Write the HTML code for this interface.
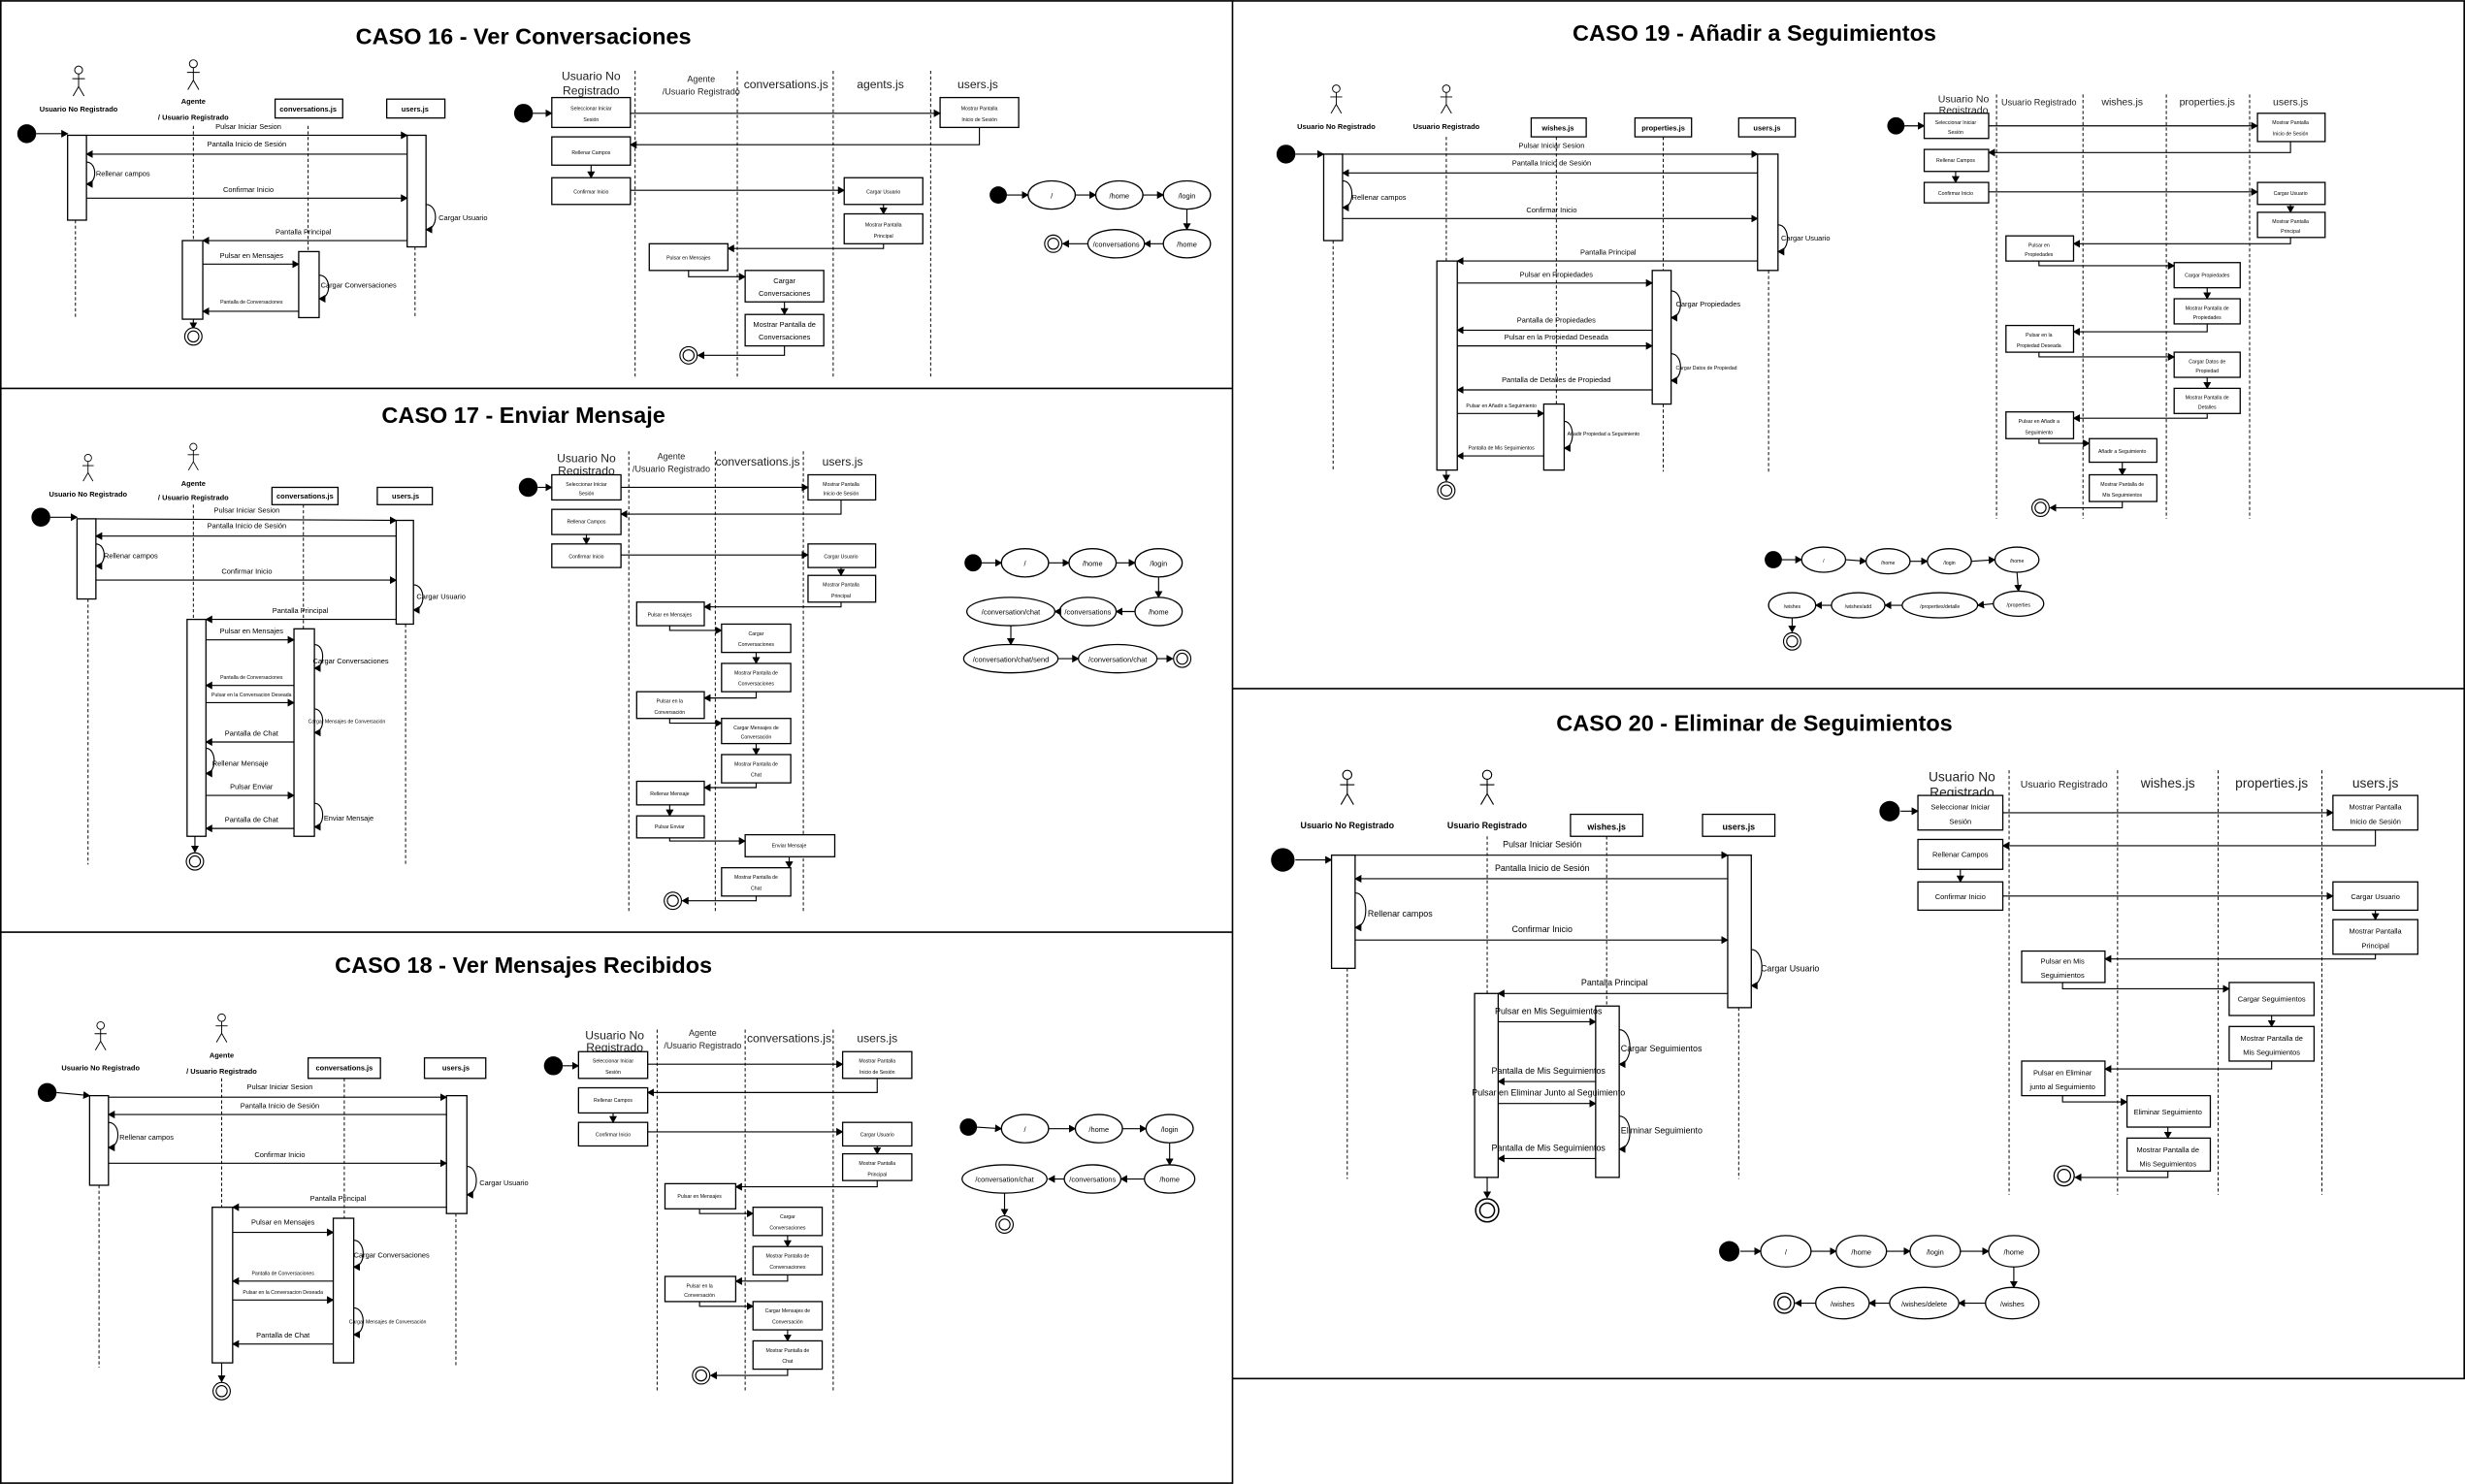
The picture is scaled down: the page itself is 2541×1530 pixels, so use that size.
<!DOCTYPE html>
<html><head><meta charset="utf-8"><style>
html,body{margin:0;padding:0;background:#fff}
svg{display:block}
text{font-family:"Liberation Sans",sans-serif;fill:#000}
.ti{font-size:14.5px;font-weight:bold;text-anchor:middle}
.s{font-size:4.6px}
.xs{font-size:3.2px}
.c{text-anchor:middle}
.bd{font-weight:bold}
.h{font-size:7.5px;text-anchor:middle;fill:#222}
.h6{font-size:5.6px;text-anchor:middle;fill:#222}
.b{fill:#fff;stroke:#000;stroke-width:.8}
.l{stroke:#000;stroke-width:.6;stroke-dasharray:2,1.5;fill:none}
.m{stroke:#000;stroke-width:.7;fill:none;marker-end:url(#a)}
.e{fill:#fff;stroke:#000;stroke-width:.8}
.p{stroke:#000;stroke-width:1;fill:none}
</style></head><body>
<svg width="2541" height="1530" viewBox="0 0 1568 944" xmlns="http://www.w3.org/2000/svg">
<defs>
<marker id="a" markerWidth="5" markerHeight="5" refX="4" refY="2.5" orient="auto" markerUnits="userSpaceOnUse"><path d="M0,0 L4.5,2.5 L0,5 z" fill="#000"/></marker>
<symbol id="act" viewBox="-6 0 12 20" overflow="visible"><circle cx="0" cy="2.5" r="2.5" fill="#fff" stroke="#000" stroke-width=".6"/><path d="M0,5 V13 M-4,8 H4 M0,13 L-3.5,19 M0,13 L3.5,19" stroke="#000" stroke-width=".6" fill="none"/></symbol>
<symbol id="fin" viewBox="-6 -6 12 12" overflow="visible"><circle r="5.5" fill="#fff" stroke="#000" stroke-width=".7"/><circle r="3.5" fill="#fff" stroke="#000" stroke-width=".7"/></symbol>
</defs>
<rect x="0" y="0" width="1568" height="944" fill="#fff"/>
<!-- panel borders -->
<g stroke="#000" stroke-width="1" fill="none">
<rect x=".5" y=".5" width="783.5" height="943"/>
<line x1="0" y1="247" x2="784" y2="247"/><line x1="0" y1="593" x2="784" y2="593"/>
<path d="M784,0.5 H1567.5 V877 H784"/><line x1="784" y1="438" x2="1568" y2="438"/>
</g>

<!-- ================= CASO 16 ================= -->
<text class="ti" x="333" y="28">CASO 16 - Ver Conversaciones</text>
<use href="#act" x="44" y="42" width="12" height="20"/>
<text class="s bd c" x="50" y="71">Usuario No Registrado</text>
<use href="#act" x="117" y="38" width="12" height="20"/>
<text class="s bd c" x="123" y="66">Agente</text><text class="s bd c" x="123" y="76">/ Usuario Registrado</text>
<rect class="b" x="175" y="63" width="43" height="12"/><text class="s bd c" x="196" y="71">conversations.js</text>
<rect class="b" x="246" y="63" width="37" height="12"/><text class="s bd c" x="264" y="71">users.js</text>
<line class="l" x1="48" y1="140" x2="48" y2="202"/><line class="l" x1="123" y1="80" x2="123" y2="153"/>
<line class="l" x1="196" y1="80" x2="196" y2="160"/><line class="l" x1="264" y1="157" x2="264" y2="202"/>
<circle cx="17" cy="85" r="6"/><line class="m" x1="23" y1="85" x2="43" y2="85"/>
<rect class="b" x="43" y="86" width="12" height="54"/><rect class="b" x="259" y="86" width="12" height="71"/>
<rect class="b" x="116" y="153" width="13" height="50"/><rect class="b" x="190" y="160" width="13" height="42"/>
<line class="m" x1="55" y1="86" x2="259" y2="86"/><text class="s c" x="158" y="82">Pulsar Iniciar Sesion</text>
<line class="m" x1="259" y1="98" x2="55" y2="98"/><text class="s c" x="157" y="93">Pantalla Inicio de Sesión</text>
<path class="m" d="M55,103 C62,103 62,117 55,117"/><text class="s" x="61" y="112">Rellenar campos</text>
<line class="m" x1="55" y1="126" x2="259" y2="126"/><text class="s c" x="158" y="122">Confirmar Inicio</text>
<path class="m" d="M271,130 C279,130 279,146 271,146"/><text class="s" x="279" y="140">Cargar Usuario</text>
<line class="m" x1="259" y1="153" x2="129" y2="153"/><text class="s c" x="193" y="149">Pantalla Principal</text>
<line class="m" x1="129" y1="168" x2="190" y2="168"/><text class="s c" x="160" y="164">Pulsar en Mensajes</text>
<path class="m" d="M203,175 C211,175 211,190 203,190"/><text class="s" x="204" y="183">Cargar Conversaciones</text>
<line class="m" x1="190" y1="198" x2="129" y2="198"/><text class="xs c" x="160" y="193">Pantalla de Conversaciones</text>
<line class="m" x1="123" y1="203" x2="123" y2="209"/><use href="#fin" x="117" y="208" width="12" height="12"/>

<text class="h" x="376" y="51">Usuario No</text><text class="h" x="376" y="60">Registrado</text>
<text class="h6" x="446" y="52">Agente</text><text class="h6" x="446" y="60">/Usuario Registrado</text>
<text class="h" x="500" y="56">conversations.js</text><text class="h" x="560" y="56">agents.js</text><text class="h" x="622" y="56">users.js</text>
<g class="l"><line x1="404" y1="45" x2="404" y2="240"/><line x1="469" y1="45" x2="469" y2="240"/><line x1="530" y1="45" x2="530" y2="240"/><line x1="592" y1="45" x2="592" y2="240"/></g>
<circle cx="333" cy="72" r="6"/><line class="m" x1="339" y1="72" x2="351" y2="72"/>
<rect class="b" x="351" y="62" width="50" height="19"/><text class="xs c" x="376" y="70">Seleccionar Iniciar</text><text class="xs c" x="376" y="77">Sesión</text>
<rect class="b" x="598" y="62" width="50" height="19"/><text class="xs c" x="623" y="70">Mostrar Pantalla</text><text class="xs c" x="623" y="77">Inicio de Sesión</text>
<line class="m" x1="401" y1="72" x2="598" y2="72"/>
<path class="m" d="M623,81 V92 H401"/>
<rect class="b" x="351" y="87" width="50" height="18"/><text class="xs c" x="376" y="98">Rellenar Campos</text>
<line class="m" x1="376" y1="105" x2="376" y2="113"/>
<rect class="b" x="351" y="113" width="50" height="17"/><text class="xs c" x="376" y="123">Confirmar Inicio</text>
<line class="m" x1="401" y1="121" x2="537" y2="121"/>
<rect class="b" x="537" y="113" width="50" height="17"/><text class="xs c" x="562" y="123">Cargar Usuario</text>
<line class="m" x1="562" y1="130" x2="562" y2="136"/>
<rect class="b" x="537" y="136" width="50" height="19"/><text class="xs c" x="562" y="144">Mostrar Pantalla</text><text class="xs c" x="562" y="151">Principal</text>
<path class="m" d="M562,155 V158 H463"/>
<rect class="b" x="413" y="155" width="50" height="17"/><text class="xs c" x="438" y="165">Pulsar en Mensajes</text>
<path class="m" d="M438,172 V176 H474"/>
<rect class="b" x="474" y="172" width="50" height="20"/><text class="s c" x="499" y="180">Cargar</text><text class="s c" x="499" y="188">Conversaciones</text>
<line class="m" x1="499" y1="192" x2="499" y2="200"/>
<rect class="b" x="474" y="200" width="50" height="20"/><text class="s c" x="499" y="208">Mostrar Pantalla de</text><text class="s c" x="499" y="216">Conversaciones</text>
<path class="m" d="M499,220 V226 H444"/><use href="#fin" x="432" y="220" width="12" height="12"/>

<circle cx="635" cy="124" r="5.5"/><line class="m" x1="640" y1="124" x2="654" y2="124"/>
<ellipse class="e" cx="669" cy="124" rx="15" ry="9"/><text class="s c" x="669" y="126">/</text>
<line class="m" x1="684" y1="124" x2="697" y2="124"/>
<ellipse class="e" cx="712" cy="124" rx="15" ry="9"/><text class="s c" x="712" y="126">/home</text>
<line class="m" x1="727" y1="124" x2="740" y2="124"/>
<ellipse class="e" cx="755" cy="124" rx="15" ry="9"/><text class="s c" x="755" y="126">/login</text>
<line class="m" x1="755" y1="133" x2="755" y2="146"/>
<ellipse class="e" cx="755" cy="155" rx="15" ry="9"/><text class="s c" x="755" y="157">/home</text>
<line class="m" x1="740" y1="155" x2="728" y2="155"/>
<ellipse class="e" cx="710" cy="155" rx="18" ry="9"/><text class="s c" x="710" y="157">/conversations</text>
<line class="m" x1="692" y1="155" x2="676" y2="155"/><use href="#fin" x="664" y="149" width="12" height="12"/>

<!-- ================= CASO 17 ================= -->
<text class="ti" x="333" y="269">CASO 17 - Enviar Mensaje</text>
<use href="#act" x="50" y="289" width="12" height="18"/>
<text class="s bd c" x="56" y="316">Usuario No Registrado</text>
<use href="#act" x="117" y="282" width="12" height="18"/>
<text class="s bd c" x="123" y="309">Agente</text><text class="s bd c" x="123" y="318">/ Usuario Registrado</text>
<rect class="b" x="173" y="310" width="42" height="11"/><text class="s bd c" x="194" y="317">conversations.js</text>
<rect class="b" x="240" y="310" width="35" height="11"/><text class="s bd c" x="258" y="317">users.js</text>
<line class="l" x1="56" y1="381" x2="56" y2="550"/><line class="l" x1="123" y1="321" x2="123" y2="394"/>
<line class="l" x1="193" y1="321" x2="193" y2="400"/><line class="l" x1="258" y1="397" x2="258" y2="550"/>
<circle cx="26" cy="329" r="6"/><line class="m" x1="32" y1="329" x2="49" y2="329"/>
<rect class="b" x="49" y="330" width="12" height="51"/><rect class="b" x="252" y="331" width="11" height="66"/>
<rect class="b" x="119" y="394" width="12" height="138"/><rect class="b" x="187" y="400" width="13" height="132"/>
<line class="m" x1="61" y1="330" x2="252" y2="331"/><text class="s c" x="157" y="326">Pulsar Iniciar Sesion</text>
<line class="m" x1="252" y1="341" x2="61" y2="341"/><text class="s c" x="157" y="336">Pantalla Inicio de Sesión</text>
<path class="m" d="M61,346 C68,346 68,360 61,360"/><text class="s" x="66" y="355">Rellenar campos</text>
<line class="m" x1="61" y1="369" x2="252" y2="369"/><text class="s c" x="157" y="365">Confirmar Inicio</text>
<path class="m" d="M263,372 C271,372 271,388 263,388"/><text class="s" x="265" y="381">Cargar Usuario</text>
<line class="m" x1="252" y1="394" x2="131" y2="394"/><text class="s c" x="191" y="390">Pantalla Principal</text>
<line class="m" x1="131" y1="407" x2="187" y2="407"/><text class="s c" x="160" y="403">Pulsar en Mensajes</text>
<path class="m" d="M200,410 C207,410 207,425 200,425"/><text class="s" x="199" y="422">Cargar Conversaciones</text>
<line class="m" x1="187" y1="436" x2="131" y2="436"/><text class="xs c" x="160" y="432">Pantalla de Conversaciones</text>
<line class="m" x1="131" y1="447" x2="187" y2="447"/><text class="xs c" x="160" y="443">Pulsar en la Conversacion Deseada</text>
<path class="m" d="M200,451 C207,451 207,466 200,466"/><text class="xs" x="196" y="460">Cargar Mensajes de Conversación</text>
<line class="m" x1="187" y1="472" x2="131" y2="472"/><text class="s c" x="160" y="468">Pantalla de Chat</text>
<path class="m" d="M131,476 C138,476 138,492 131,492"/><text class="s" x="135" y="487">Rellenar Mensaje</text>
<line class="m" x1="131" y1="506" x2="187" y2="506"/><text class="s c" x="160" y="502">Pulsar Enviar</text>
<path class="m" d="M200,511 C207,511 207,526 200,526"/><text class="s" x="206" y="522">Enviar Mensaje</text>
<line class="m" x1="187" y1="527" x2="131" y2="527"/><text class="s c" x="160" y="523">Pantalla de Chat</text>
<line class="m" x1="124" y1="532" x2="124" y2="542"/><use href="#fin" x="118" y="542" width="12" height="12"/>

<text class="h" x="373" y="294">Usuario No</text><text class="h" x="373" y="302">Registrado</text>
<text class="h6" x="427" y="292">Agente</text><text class="h6" x="427" y="300">/Usuario Registrado</text>
<text class="h" x="482" y="296">conversations.js</text><text class="h" x="536" y="296">users.js</text>
<g class="l"><line x1="400" y1="287" x2="400" y2="580"/><line x1="455" y1="287" x2="455" y2="580"/><line x1="511" y1="287" x2="511" y2="580"/></g>
<circle cx="336" cy="310" r="6"/><line class="m" x1="342" y1="310" x2="351" y2="310"/>
<g>
<rect class="b" x="351" y="302" width="44" height="16"/><text class="xs c" x="373" y="309">Seleccionar Iniciar</text><text class="xs c" x="373" y="315">Sesión</text>
<rect class="b" x="514" y="302" width="43" height="16"/><text class="xs c" x="535" y="309">Mostrar Pantalla</text><text class="xs c" x="535" y="315">Inicio de Sesión</text>
<line class="m" x1="395" y1="310" x2="514" y2="310"/><path class="m" d="M535,318 V327 H395"/>
<rect class="b" x="351" y="324" width="44" height="16"/><text class="xs c" x="373" y="333">Rellenar Campos</text>
<line class="m" x1="373" y1="340" x2="373" y2="346"/>
<rect class="b" x="351" y="346" width="44" height="15"/><text class="xs c" x="373" y="355">Confirmar Inicio</text>
<line class="m" x1="395" y1="353" x2="514" y2="353"/>
<rect class="b" x="514" y="346" width="43" height="15"/><text class="xs c" x="535" y="355">Cargar Usuario</text>
<line class="m" x1="535" y1="361" x2="535" y2="366"/>
<rect class="b" x="514" y="366" width="43" height="17"/><text class="xs c" x="535" y="373">Mostrar Pantalla</text><text class="xs c" x="535" y="380">Principal</text>
<path class="m" d="M535,383 V386 H448"/>
<rect class="b" x="405" y="383" width="43" height="15"/><text class="xs c" x="426" y="392">Pulsar en Mensajes</text>
<path class="m" d="M426,398 V401 H459"/>
<rect class="b" x="459" y="397" width="44" height="18"/><text class="xs c" x="481" y="404">Cargar</text><text class="xs c" x="481" y="411">Conversaciones</text>
<line class="m" x1="481" y1="415" x2="481" y2="422"/>
<rect class="b" x="459" y="422" width="44" height="18"/><text class="xs c" x="481" y="429">Mostrar Pantalla de</text><text class="xs c" x="481" y="436">Conversaciones</text>
<path class="m" d="M481,440 V444 H448"/>
<rect class="b" x="405" y="440" width="43" height="17"/><text class="xs c" x="426" y="447">Pulsar en la</text><text class="xs c" x="426" y="454">Conversación</text>
<path class="m" d="M426,457 V460 H459"/>
<rect class="b" x="459" y="457" width="44" height="16"/><text class="xs c" x="481" y="464">Cargar Mensajes de</text><text class="xs c" x="481" y="470">Conversación</text>
<line class="m" x1="481" y1="473" x2="481" y2="480"/>
<rect class="b" x="459" y="480" width="44" height="18"/><text class="xs c" x="481" y="487">Mostrar Pantalla de</text><text class="xs c" x="481" y="494">Chat</text>
<path class="m" d="M481,498 V501 H448"/>
<rect class="b" x="405" y="497" width="43" height="15"/><text class="xs c" x="426" y="506">Rellenar Mensaje</text>
<line class="m" x1="426" y1="512" x2="426" y2="519"/>
<rect class="b" x="405" y="519" width="43" height="14"/><text class="xs c" x="426" y="527">Pulsar Enviar</text>
<path class="m" d="M426,533 V535 H474"/>
<rect class="b" x="474" y="531" width="57" height="14"/><text class="xs c" x="502" y="539">Enviar Mensaje</text>
<line class="m" x1="502" y1="545" x2="502" y2="552"/>
<rect class="b" x="459" y="552" width="44" height="18"/><text class="xs c" x="481" y="559">Mostrar Pantalla de</text><text class="xs c" x="481" y="566">Chat</text>
<path class="m" d="M481,570 V573 H434"/><use href="#fin" x="422" y="567" width="12" height="12"/>
</g>
<circle cx="619" cy="358" r="5.5"/><line class="m" x1="624" y1="358" x2="637" y2="358"/>
<ellipse class="e" cx="652" cy="358" rx="15" ry="9"/><text class="s c" x="652" y="360">/</text>
<line class="m" x1="667" y1="358" x2="680" y2="358"/>
<ellipse class="e" cx="695" cy="358" rx="15" ry="9"/><text class="s c" x="695" y="360">/home</text>
<line class="m" x1="710" y1="358" x2="722" y2="358"/>
<ellipse class="e" cx="737" cy="358" rx="15" ry="9"/><text class="s c" x="737" y="360">/login</text>
<line class="m" x1="737" y1="367" x2="737" y2="380"/>
<ellipse class="e" cx="737" cy="389" rx="15" ry="9"/><text class="s c" x="737" y="391">/home</text>
<line class="m" x1="722" y1="389" x2="710" y2="389"/>
<ellipse class="e" cx="692" cy="389" rx="18" ry="9"/><text class="s c" x="692" y="391">/conversations</text>
<line class="m" x1="674" y1="389" x2="671" y2="389"/>
<ellipse class="e" cx="643" cy="389" rx="28" ry="9"/><text class="s c" x="643" y="391">/conversation/chat</text>
<line class="m" x1="643" y1="398" x2="643" y2="410"/>
<ellipse class="e" cx="643" cy="419" rx="30" ry="9"/><text class="s c" x="643" y="421">/conversation/chat/send</text>
<line class="m" x1="673" y1="419" x2="686" y2="419"/>
<ellipse class="e" cx="711" cy="419" rx="25" ry="9"/><text class="s c" x="711" y="421">/conversation/chat</text>
<line class="m" x1="736" y1="419" x2="746" y2="419"/><use href="#fin" x="746" y="413" width="12" height="12"/>

<!-- ================= CASO 18 ================= -->
<text class="ti" x="333" y="619">CASO 18 - Ver Mensajes Recibidos</text>
<use href="#act" x="58" y="650" width="12" height="19"/>
<text class="s bd c" x="64" y="681">Usuario No Registrado</text>
<use href="#act" x="135" y="645" width="12" height="19"/>
<text class="s bd c" x="141" y="673">Agente</text><text class="s bd c" x="141" y="683">/ Usuario Registrado</text>
<rect class="b" x="196" y="673" width="46" height="13"/><text class="s bd c" x="219" y="681">conversations.js</text>
<rect class="b" x="270" y="673" width="39" height="13"/><text class="s bd c" x="290" y="681">users.js</text>
<line class="l" x1="63" y1="754" x2="63" y2="870"/><line class="l" x1="141" y1="686" x2="141" y2="768"/>
<line class="l" x1="219" y1="686" x2="219" y2="775"/><line class="l" x1="290" y1="772" x2="290" y2="870"/>
<circle cx="30" cy="695" r="6"/><line class="m" x1="36" y1="695" x2="57" y2="697"/>
<rect class="b" x="57" y="697" width="12" height="57"/><rect class="b" x="284" y="697" width="13" height="75"/>
<rect class="b" x="135" y="768" width="13" height="99"/><rect class="b" x="212" y="775" width="13" height="92"/>
<line class="m" x1="69" y1="698" x2="284" y2="698"/><text class="s c" x="178" y="693">Pulsar Iniciar Sesion</text>
<line class="m" x1="284" y1="709" x2="69" y2="709"/><text class="s c" x="178" y="705">Pantalla Inicio de Sesión</text>
<path class="m" d="M69,714 C77,714 77,730 69,730"/><text class="s" x="76" y="725">Rellenar campos</text>
<line class="m" x1="69" y1="740" x2="284" y2="740"/><text class="s c" x="178" y="736">Confirmar Inicio</text>
<path class="m" d="M297,742 C305,742 305,760 297,760"/><text class="s" x="305" y="754">Cargar Usuario</text>
<line class="m" x1="284" y1="768" x2="148" y2="768"/><text class="s c" x="215" y="764">Pantalla Principal</text>
<line class="m" x1="148" y1="784" x2="212" y2="784"/><text class="s c" x="180" y="779">Pulsar en Mensajes</text>
<path class="m" d="M225,789 C233,789 233,806 225,806"/><text class="s" x="225" y="800">Cargar Conversaciones</text>
<line class="m" x1="212" y1="815" x2="148" y2="815"/><text class="xs c" x="180" y="811">Pantalla de Conversaciones</text>
<line class="m" x1="148" y1="827" x2="212" y2="827"/><text class="xs c" x="180" y="823">Pulsar en la Conversacion Deseada</text>
<path class="m" d="M225,832 C233,832 233,849 225,849"/><text class="xs" x="222" y="842">Cargar Mensajes de Conversación</text>
<line class="m" x1="212" y1="855" x2="148" y2="855"/><text class="s c" x="180" y="851">Pantalla de Chat</text>
<line class="m" x1="141" y1="867" x2="141" y2="879"/><use href="#fin" x="135" y="879" width="12" height="12"/>

<text class="h" x="391" y="661">Usuario No</text><text class="h" x="391" y="669">Registrado</text>
<text class="h6" x="447" y="659">Agente</text><text class="h6" x="447" y="667">/Usuario Registrado</text>
<text class="h" x="502" y="663">conversations.js</text><text class="h" x="558" y="663">users.js</text>
<g class="l"><line x1="418" y1="655" x2="418" y2="885"/><line x1="474" y1="655" x2="474" y2="885"/><line x1="530" y1="655" x2="530" y2="885"/></g>
<circle cx="352" cy="678" r="6"/><line class="m" x1="358" y1="678" x2="368" y2="678"/>
<rect class="b" x="368" y="669" width="44" height="17"/><text class="xs c" x="390" y="676">Seleccionar Iniciar</text><text class="xs c" x="390" y="683">Sesión</text>
<rect class="b" x="536" y="669" width="44" height="17"/><text class="xs c" x="558" y="676">Mostrar Pantalla</text><text class="xs c" x="558" y="683">Inicio de Sesión</text>
<line class="m" x1="412" y1="677" x2="536" y2="677"/><path class="m" d="M558,686 V695 H412"/>
<rect class="b" x="368" y="692" width="44" height="16"/><text class="xs c" x="390" y="701">Rellenar Campos</text>
<line class="m" x1="390" y1="708" x2="390" y2="714"/>
<rect class="b" x="368" y="714" width="44" height="15"/><text class="xs c" x="390" y="723">Confirmar Inicio</text>
<line class="m" x1="412" y1="720" x2="536" y2="720"/>
<rect class="b" x="536" y="714" width="44" height="15"/><text class="xs c" x="558" y="723">Cargar Usuario</text>
<line class="m" x1="558" y1="729" x2="558" y2="734"/>
<rect class="b" x="536" y="734" width="44" height="17"/><text class="xs c" x="558" y="741">Mostrar Pantalla</text><text class="xs c" x="558" y="748">Principal</text>
<path class="m" d="M558,751 V755 H468"/>
<rect class="b" x="423" y="753" width="45" height="16"/><text class="xs c" x="445" y="762">Pulsar en Mensajes</text>
<path class="m" d="M445,769 V772 H479"/>
<rect class="b" x="479" y="768" width="44" height="18"/><text class="xs c" x="501" y="775">Cargar</text><text class="xs c" x="501" y="782">Conversaciones</text>
<line class="m" x1="501" y1="786" x2="501" y2="793"/>
<rect class="b" x="479" y="793" width="44" height="18"/><text class="xs c" x="501" y="800">Mostrar Pantalla de</text><text class="xs c" x="501" y="807">Conversaciones</text>
<path class="m" d="M501,811 V815 H468"/>
<rect class="b" x="423" y="812" width="45" height="16"/><text class="xs c" x="445" y="819">Pulsar en la</text><text class="xs c" x="445" y="825">Conversación</text>
<path class="m" d="M445,828 V831 H479"/>
<rect class="b" x="479" y="828" width="44" height="18"/><text class="xs c" x="501" y="835">Cargar Mensajes de</text><text class="xs c" x="501" y="842">Conversación</text>
<line class="m" x1="501" y1="846" x2="501" y2="853"/>
<rect class="b" x="479" y="853" width="44" height="18"/><text class="xs c" x="501" y="860">Mostrar Pantalla de</text><text class="xs c" x="501" y="867">Chat</text>
<path class="m" d="M501,871 V875 H452"/><use href="#fin" x="440" y="869" width="12" height="12"/>

<circle cx="616" cy="717" r="5.5"/><line class="m" x1="621" y1="717" x2="637" y2="718"/>
<ellipse class="e" cx="652" cy="718" rx="15" ry="9"/><text class="s c" x="652" y="720">/</text>
<line class="m" x1="667" y1="718" x2="684" y2="718"/>
<ellipse class="e" cx="699" cy="718" rx="15" ry="9"/><text class="s c" x="699" y="720">/home</text>
<line class="m" x1="714" y1="718" x2="729" y2="718"/>
<ellipse class="e" cx="744" cy="718" rx="15" ry="9"/><text class="s c" x="744" y="720">/login</text>
<line class="m" x1="744" y1="727" x2="744" y2="741"/>
<ellipse class="e" cx="744" cy="750" rx="16" ry="9"/><text class="s c" x="744" y="752">/home</text>
<line class="m" x1="728" y1="750" x2="713" y2="750"/>
<ellipse class="e" cx="695" cy="750" rx="18" ry="9"/><text class="s c" x="695" y="752">/conversations</text>
<line class="m" x1="677" y1="750" x2="667" y2="750"/>
<ellipse class="e" cx="639" cy="750" rx="27" ry="9"/><text class="s c" x="639" y="752">/conversation/chat</text>
<line class="m" x1="639" y1="759" x2="639" y2="773"/><use href="#fin" x="633" y="773" width="12" height="12"/>

<!-- ================= CASO 19 ================= -->
<text class="ti" x="1116" y="26">CASO 19 - Añadir a Seguimientos</text>
<use href="#act" x="844" y="54" width="12" height="19"/>
<text class="s bd c" x="850" y="82">Usuario No Registrado</text>
<use href="#act" x="914" y="54" width="12" height="19"/>
<text class="s bd c" x="920" y="82">Usuario Registrado</text>
<rect class="b" x="974" y="75" width="35" height="12"/><text class="s bd c" x="991" y="83">wishes.js</text>
<rect class="b" x="1040" y="75" width="36" height="12"/><text class="s bd c" x="1058" y="83">properties.js</text>
<rect class="b" x="1106" y="75" width="36" height="12"/><text class="s bd c" x="1124" y="83">users.js</text>
<line class="l" x1="848" y1="153" x2="848" y2="300"/><line class="l" x1="920" y1="87" x2="920" y2="166"/>
<line class="l" x1="990" y1="87" x2="990" y2="257"/><line class="l" x1="1058" y1="87" x2="1058" y2="172"/><line class="l" x1="1058" y1="257" x2="1058" y2="300"/>
<line class="l" x1="1125" y1="172" x2="1125" y2="300"/>
<circle cx="818" cy="98" r="6"/><line class="m" x1="824" y1="98" x2="842" y2="98"/>
<rect class="b" x="842" y="98" width="12" height="55"/><rect class="b" x="1118" y="98" width="13" height="74"/>
<rect class="b" x="914" y="166" width="13" height="133"/><rect class="b" x="1051" y="172" width="12" height="85"/>
<rect class="b" x="982" y="257" width="13" height="42"/>
<line class="m" x1="854" y1="98" x2="1118" y2="98"/><text class="s c" x="987" y="94">Pulsar Iniciar Sesion</text>
<line class="m" x1="1118" y1="110" x2="854" y2="110"/><text class="s c" x="987" y="105">Pantalla Inicio de Sesión</text>
<path class="m" d="M854,115 C862,115 862,132 854,132"/><text class="s" x="860" y="127">Rellenar campos</text>
<line class="m" x1="854" y1="139" x2="1118" y2="139"/><text class="s c" x="987" y="135">Confirmar Inicio</text>
<path class="m" d="M1131,143 C1139,143 1139,160 1131,160"/><text class="s" x="1133" y="153">Cargar Usuario</text>
<line class="m" x1="1118" y1="166" x2="927" y2="166"/><text class="s c" x="1023" y="162">Pantalla Principal</text>
<line class="m" x1="927" y1="180" x2="1051" y2="180"/><text class="s c" x="990" y="176">Pulsar en Propiedades</text>
<path class="m" d="M1063,185 C1071,185 1071,202 1063,202"/><text class="s" x="1066" y="195">Cargar Propiedades</text>
<line class="m" x1="1051" y1="210" x2="927" y2="210"/><text class="s c" x="990" y="205">Pantalla de Propiedades</text>
<line class="m" x1="927" y1="220" x2="1051" y2="220"/><text class="s c" x="990" y="216">Pulsar en la Propiedad Deseada</text>
<path class="m" d="M1063,225 C1071,225 1071,242 1063,242"/><text class="xs" x="1066" y="235">Cargar Datos de Propiedad</text>
<line class="m" x1="1051" y1="248" x2="927" y2="248"/><text class="s c" x="990" y="243">Pantalla de Detalles de Propiedad</text>
<line class="m" x1="927" y1="263" x2="982" y2="263"/><text class="xs c" x="955" y="259">Pulsar en Añadir a Seguimiento</text>
<path class="m" d="M995,268 C1002,268 1002,285 995,285"/><text class="xs" x="997" y="277">Añadir Propiedad a Seguimiento</text>
<line class="m" x1="982" y1="290" x2="927" y2="290"/><text class="xs c" x="955" y="286">Pantalla de Mis Seguimientos</text>
<line class="m" x1="920" y1="299" x2="920" y2="306"/><use href="#fin" x="914" y="306" width="12" height="12"/>

<text class="h6" x="1249" y="65" style="font-size:6.5px">Usuario No</text><text class="h6" x="1249" y="72" style="font-size:6.5px">Registrado</text>
<text class="h6" x="1297" y="67">Usuario Registrado</text>
<text class="h" x="1350" y="67" style="font-size:6.5px">wishes.js</text><text class="h" x="1404" y="67" style="font-size:6.5px">properties.js</text><text class="h" x="1457" y="67" style="font-size:6.5px">users.js</text>
<g class="l"><line x1="1270" y1="60" x2="1270" y2="330"/><line x1="1325" y1="60" x2="1325" y2="330"/><line x1="1378" y1="60" x2="1378" y2="330"/><line x1="1431" y1="60" x2="1431" y2="330"/></g>
<circle cx="1206" cy="80" r="5.5"/><line class="m" x1="1211" y1="80" x2="1224" y2="80"/>
<rect class="b" x="1224" y="72" width="41" height="16"/><text class="xs c" x="1244" y="79">Seleccionar Iniciar</text><text class="xs c" x="1244" y="85">Sesión</text>
<rect class="b" x="1436" y="72" width="43" height="18"/><text class="xs c" x="1457" y="79">Mostrar Pantalla</text><text class="xs c" x="1457" y="86">Inicio de Sesión</text>
<line class="m" x1="1265" y1="80" x2="1436" y2="80"/><path class="m" d="M1457,90 V97 H1265"/>
<rect class="b" x="1224" y="95" width="41" height="14"/><text class="xs c" x="1244" y="103">Rellenar Campos</text>
<line class="m" x1="1244" y1="109" x2="1244" y2="116"/>
<rect class="b" x="1224" y="116" width="41" height="13"/><text class="xs c" x="1244" y="124">Confirmar Inicio</text>
<line class="m" x1="1265" y1="122" x2="1436" y2="122"/>
<rect class="b" x="1436" y="116" width="43" height="14"/><text class="xs c" x="1457" y="124">Cargar Usuario</text>
<line class="m" x1="1457" y1="130" x2="1457" y2="135"/>
<rect class="b" x="1436" y="135" width="43" height="16"/><text class="xs c" x="1457" y="142">Mostrar Pantalla</text><text class="xs c" x="1457" y="148">Principal</text>
<path class="m" d="M1457,151 V155 H1319"/>
<rect class="b" x="1276" y="150" width="43" height="16"/><text class="xs c" x="1297" y="157">Pulsar en</text><text class="xs c" x="1297" y="163">Propiedades</text>
<path class="m" d="M1297,166 V169 H1383"/>
<rect class="b" x="1383" y="167" width="42" height="16"/><text class="xs c" x="1404" y="176">Cargar Propiedades</text>
<line class="m" x1="1404" y1="183" x2="1404" y2="190"/>
<rect class="b" x="1383" y="190" width="42" height="16"/><text class="xs c" x="1404" y="197">Mostrar Pantalla de</text><text class="xs c" x="1404" y="203">Propiedades</text>
<path class="m" d="M1404,206 V211 H1319"/>
<rect class="b" x="1276" y="207" width="43" height="17"/><text class="xs c" x="1297" y="214">Pulsar en la</text><text class="xs c" x="1297" y="221">Propiedad Deseada</text>
<path class="m" d="M1297,224 V227 H1383"/>
<rect class="b" x="1383" y="224" width="42" height="16"/><text class="xs c" x="1404" y="231">Cargar Datos de</text><text class="xs c" x="1404" y="237">Propiedad</text>
<line class="m" x1="1404" y1="240" x2="1404" y2="247"/>
<rect class="b" x="1383" y="247" width="42" height="16"/><text class="xs c" x="1404" y="254">Mostrar Pantalla de</text><text class="xs c" x="1404" y="260">Detalles</text>
<path class="m" d="M1404,263 V266 H1319"/>
<rect class="b" x="1276" y="262" width="43" height="17"/><text class="xs c" x="1297" y="269">Pulsar en Añadir a</text><text class="xs c" x="1297" y="276">Seguimiento</text>
<path class="m" d="M1297,279 V282 H1329"/>
<rect class="b" x="1329" y="279" width="43" height="15"/><text class="xs c" x="1350" y="288">Añadir a Seguimiento</text>
<line class="m" x1="1350" y1="294" x2="1350" y2="302"/>
<rect class="b" x="1329" y="302" width="43" height="17"/><text class="xs c" x="1350" y="309">Mostrar Pantalla de</text><text class="xs c" x="1350" y="316">Mis Seguimientos</text>
<path class="m" d="M1350,319 V323 H1304"/><use href="#fin" x="1292" y="317" width="12" height="12"/>

<circle cx="1128" cy="356" r="5.5"/><line class="m" x1="1133" y1="356" x2="1146" y2="356"/>
<ellipse class="e" cx="1160" cy="356" rx="14" ry="8"/><text class="xs c" x="1160" y="358">/</text>
<line class="m" x1="1174" y1="356" x2="1187" y2="357"/>
<ellipse class="e" cx="1201" cy="357" rx="14" ry="8"/><text class="xs c" x="1201" y="359">/home</text>
<line class="m" x1="1215" y1="357" x2="1226" y2="357"/>
<ellipse class="e" cx="1240" cy="357" rx="14" ry="8"/><text class="xs c" x="1240" y="359">/login</text>
<line class="m" x1="1254" y1="357" x2="1269" y2="356"/>
<ellipse class="e" cx="1283" cy="356" rx="14" ry="8"/><text class="xs c" x="1283" y="358">/home</text>
<line class="m" x1="1283" y1="364" x2="1284" y2="376"/>
<ellipse class="e" cx="1284" cy="384" rx="16" ry="8"/><text class="xs c" x="1284" y="386">/properties</text>
<line class="m" x1="1268" y1="384" x2="1258" y2="385"/>
<ellipse class="e" cx="1234" cy="385" rx="24" ry="8"/><text class="xs c" x="1234" y="387">/properties/detalle</text>
<line class="m" x1="1210" y1="385" x2="1199" y2="385"/>
<ellipse class="e" cx="1182" cy="385" rx="17" ry="8"/><text class="xs c" x="1182" y="387">/wishes/add</text>
<line class="m" x1="1165" y1="385" x2="1155" y2="385"/>
<ellipse class="e" cx="1140" cy="385" rx="15" ry="8"/><text class="xs c" x="1140" y="387">/wishes</text>
<line class="m" x1="1140" y1="393" x2="1140" y2="402"/><use href="#fin" x="1134" y="402" width="12" height="12"/>

<!-- ================= CASO 20 ================= -->
<text class="ti" x="1116" y="465">CASO 20 - Eliminar de Seguimientos</text>
<use href="#act" x="850" y="490" width="14" height="23"/>
<text class="s bd c" x="857" y="527" style="font-size:5.5px">Usuario No Registrado</text>
<use href="#act" x="939" y="490" width="14" height="23"/>
<text class="s bd c" x="946" y="527" style="font-size:5.5px">Usuario Registrado</text>
<rect class="b" x="999" y="518" width="46" height="14"/><text class="s bd c" x="1022" y="528" style="font-size:5.5px">wishes.js</text>
<rect class="b" x="1083" y="518" width="46" height="14"/><text class="s bd c" x="1106" y="528" style="font-size:5.5px">users.js</text>
<line class="l" x1="857" y1="616" x2="857" y2="750"/><line class="l" x1="946" y1="532" x2="946" y2="632"/>
<line class="l" x1="1022" y1="532" x2="1022" y2="640"/><line class="l" x1="1106" y1="641" x2="1106" y2="750"/>
<circle cx="816" cy="547" r="7.5"/><line class="m" x1="824" y1="547" x2="847" y2="547"/>
<rect class="b" x="847" y="544" width="15" height="72"/><rect class="b" x="1099" y="544" width="15" height="97"/>
<rect class="b" x="938" y="632" width="15" height="117"/><rect class="b" x="1015" y="640" width="15" height="109"/>
<line class="m" x1="862" y1="544" x2="1099" y2="544"/><text class="s c" x="981" y="539" style="font-size:5.5px">Pulsar Iniciar Sesión</text>
<line class="m" x1="1099" y1="559" x2="862" y2="559"/><text class="s c" x="981" y="554" style="font-size:5.5px">Pantalla Inicio de Sesión</text>
<path class="m" d="M862,568 C871,568 871,590 862,590"/><text class="s" x="870" y="583" style="font-size:5.5px">Rellenar campos</text>
<line class="m" x1="862" y1="598" x2="1099" y2="598"/><text class="s c" x="981" y="593" style="font-size:5.5px">Confirmar Inicio</text>
<path class="m" d="M1114,604 C1123,604 1123,627 1114,627"/><text class="s" x="1120" y="618" style="font-size:5.5px">Cargar Usuario</text>
<line class="m" x1="1099" y1="632" x2="953" y2="632"/><text class="s c" x="1027" y="627" style="font-size:5.5px">Pantalla Principal</text>
<line class="m" x1="953" y1="650" x2="1015" y2="650"/><text class="s c" x="985" y="645" style="font-size:5.5px">Pulsar en Mis Seguimientos</text>
<path class="m" d="M1030,655 C1039,655 1039,677 1030,677"/><text class="s" x="1031" y="669" style="font-size:5.5px">Cargar Seguimientos</text>
<line class="m" x1="1015" y1="688" x2="953" y2="688"/><text class="s c" x="985" y="683" style="font-size:5.5px">Pantalla de Mis Seguimientos</text>
<line class="m" x1="953" y1="702" x2="1015" y2="702"/><text class="s c" x="985" y="697" style="font-size:5.5px">Pulsar en Eliminar Junto al Seguimiento</text>
<path class="m" d="M1030,710 C1039,710 1039,731 1030,731"/><text class="s" x="1031" y="721" style="font-size:5.5px">Eliminar Seguimiento</text>
<line class="m" x1="1015" y1="737" x2="953" y2="737"/><text class="s c" x="985" y="732" style="font-size:5.5px">Pantalla de Mis Seguimientos</text>
<line class="m" x1="946" y1="749" x2="946" y2="762"/><use href="#fin" x="938" y="762" width="16" height="16"/>

<text class="h" x="1248" y="497" style="font-size:8.5px">Usuario No</text><text class="h" x="1248" y="507" style="font-size:8.5px">Registrado</text>
<text class="h" x="1313" y="501" style="font-size:6.5px">Usuario Registrado</text>
<text class="h" x="1379" y="501" style="font-size:8.5px">wishes.js</text><text class="h" x="1445" y="501" style="font-size:8.5px">properties.js</text><text class="h" x="1511" y="501" style="font-size:8.5px">users.js</text>
<g class="l"><line x1="1278" y1="490" x2="1278" y2="760"/><line x1="1347" y1="490" x2="1347" y2="760"/><line x1="1411" y1="490" x2="1411" y2="760"/><line x1="1477" y1="490" x2="1477" y2="760"/></g>
<circle cx="1202" cy="516" r="6.5"/><line class="m" x1="1209" y1="516" x2="1220" y2="516"/>
<rect class="b" x="1220" y="506" width="54" height="22"/><text class="s c" x="1247" y="515">Seleccionar Iniciar</text><text class="s c" x="1247" y="524">Sesión</text>
<rect class="b" x="1484" y="506" width="54" height="22"/><text class="s c" x="1511" y="515">Mostrar Pantalla</text><text class="s c" x="1511" y="524">Inicio de Sesión</text>
<line class="m" x1="1274" y1="517" x2="1484" y2="517"/><path class="m" d="M1511,528 V538 H1274"/>
<rect class="b" x="1220" y="534" width="54" height="19"/><text class="s c" x="1247" y="545">Rellenar Campos</text>
<line class="m" x1="1247" y1="553" x2="1247" y2="561"/>
<rect class="b" x="1220" y="561" width="54" height="18"/><text class="s c" x="1247" y="572">Confirmar Inicio</text>
<line class="m" x1="1274" y1="570" x2="1484" y2="570"/>
<rect class="b" x="1484" y="561" width="54" height="18"/><text class="s c" x="1511" y="572">Cargar Usuario</text>
<line class="m" x1="1511" y1="579" x2="1511" y2="585"/>
<rect class="b" x="1484" y="585" width="54" height="22"/><text class="s c" x="1511" y="594">Mostrar Pantalla</text><text class="s c" x="1511" y="603">Principal</text>
<path class="m" d="M1511,607 V610 H1339"/>
<rect class="b" x="1286" y="605" width="53" height="20"/><text class="s c" x="1312" y="613">Pulsar en Mis</text><text class="s c" x="1312" y="622">Seguimientos</text>
<path class="m" d="M1312,625 V629 H1418"/>
<rect class="b" x="1418" y="625" width="54" height="21"/><text class="s c" x="1445" y="637">Cargar Seguimientos</text>
<line class="m" x1="1445" y1="646" x2="1445" y2="653"/>
<rect class="b" x="1418" y="653" width="54" height="22"/><text class="s c" x="1445" y="662">Mostrar Pantalla de</text><text class="s c" x="1445" y="671">Mis Seguimientos</text>
<path class="m" d="M1445,675 V680 H1339"/>
<rect class="b" x="1286" y="675" width="53" height="22"/><text class="s c" x="1312" y="684">Pulsar en Eliminar</text><text class="s c" x="1312" y="693">junto al Seguimiento</text>
<path class="m" d="M1312,697 V701 H1353"/>
<rect class="b" x="1353" y="697" width="53" height="20"/><text class="s c" x="1379" y="709">Eliminar Seguimiento</text>
<line class="m" x1="1379" y1="717" x2="1379" y2="724"/>
<rect class="b" x="1353" y="724" width="53" height="21"/><text class="s c" x="1379" y="733">Mostrar Pantalla de</text><text class="s c" x="1379" y="742">Mis Seguimientos</text>
<path class="m" d="M1379,745 V749 H1320"/><use href="#fin" x="1306" y="741" width="14" height="14"/>

<circle cx="1100" cy="796" r="6.5"/><line class="m" x1="1107" y1="796" x2="1120" y2="796"/>
<ellipse class="e" cx="1136" cy="796" rx="16" ry="10"/><text class="s c" x="1136" y="798">/</text>
<line class="m" x1="1152" y1="796" x2="1168" y2="796"/>
<ellipse class="e" cx="1184" cy="796" rx="16" ry="10"/><text class="s c" x="1184" y="798">/home</text>
<line class="m" x1="1200" y1="796" x2="1215" y2="796"/>
<ellipse class="e" cx="1231" cy="796" rx="16" ry="10"/><text class="s c" x="1231" y="798">/login</text>
<line class="m" x1="1247" y1="796" x2="1265" y2="796"/>
<ellipse class="e" cx="1281" cy="796" rx="16" ry="10"/><text class="s c" x="1281" y="798">/home</text>
<line class="m" x1="1281" y1="806" x2="1281" y2="819"/>
<ellipse class="e" cx="1280" cy="829" rx="17" ry="10"/><text class="s c" x="1280" y="831">/wishes</text>
<line class="m" x1="1263" y1="829" x2="1246" y2="829"/>
<ellipse class="e" cx="1224" cy="829" rx="22" ry="10"/><text class="s c" x="1224" y="831">/wishes/delete</text>
<line class="m" x1="1202" y1="829" x2="1189" y2="829"/>
<ellipse class="e" cx="1172" cy="829" rx="17" ry="10"/><text class="s c" x="1172" y="831">/wishes</text>
<line class="m" x1="1155" y1="829" x2="1142" y2="829"/><use href="#fin" x="1128" y="822" width="14" height="14"/>
</svg>
</body></html>
